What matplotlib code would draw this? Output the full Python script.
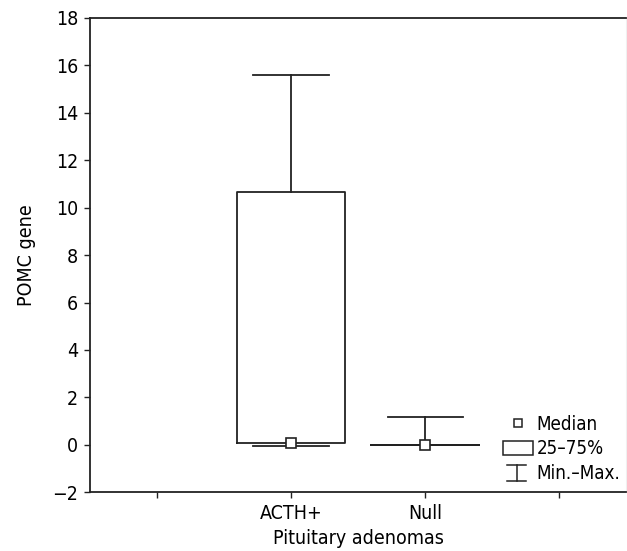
import matplotlib
matplotlib.use("Agg")
import matplotlib.pyplot as plt
from matplotlib.legend_handler import HandlerBase
from matplotlib.lines import Line2D
from matplotlib.patches import Patch

plt.rcParams["font.family"] = ["DejaVu Sans"]
plt.rcParams["font.stretch"] = "condensed"

# box statistics
groups = ["ACTH+", "Null"]
mins = [-0.03, 0.0]
q1s = [0.08, 0.0]
medians = [0.1, 0.0]
q3s = [10.65, 0.0]
maxs = [15.6, 1.16]

tick_pos = [0, 1, 2, 3]
tick_labels = ["", "ACTH+", "Null", ""]
y_ticks = list(range(-2, 19, 2))


class MinMaxHandler(HandlerBase):
    # legend glyph: vertical line with caps at both ends
    def create_artists(self, legend, orig_handle, xdescent, ydescent,
                       width, height, fontsize, trans):
        cx = width * 0.45 - xdescent
        cw = width * 0.33
        y0, y1 = -ydescent - height * 0.1, height * 1.0 - ydescent
        art = [
            Line2D([cx, cx], [y0, y1], color="#222222", lw=1.1),
            Line2D([cx - cw, cx + cw], [y0, y0], color="#222222", lw=1.1),
            Line2D([cx - cw, cx + cw], [y1, y1], color="#222222", lw=1.1),
        ]
        for a in art:
            a.set_transform(trans)
        return art


class MinMax:
    pass


fig = plt.figure(figsize=(6.27, 5.51), dpi=100)
ax = fig.add_axes([0.1435, 0.1065, 0.855, 0.861])

stats = []
for g, lo, a, m, b, hi in zip(groups, mins, q1s, medians, q3s, maxs):
    stats.append({"label": g, "whislo": lo, "q1": a, "med": m, "q3": b,
                  "whishi": hi, "fliers": []})

ax.bxp(stats, positions=[1, 2], widths=0.81, capwidths=0.56,
       showfliers=False, patch_artist=False,
       boxprops=dict(color="#222222", lw=1.3),
       whiskerprops=dict(color="#222222", lw=1.3),
       capprops=dict(color="#222222", lw=1.3),
       medianprops=dict(visible=False))
ax.plot([1, 2], medians, ls="none", marker="s", ms=6.5, mfc="white",
        mec="#222222", mew=1.2, zorder=5)

ax.set_xlim(-0.5, 3.5)
ax.set_ylim(-2, 18)
ax.set_xticks(tick_pos)
ax.set_xticklabels(tick_labels)
ax.set_yticks(y_ticks)
ax.set_yticklabels([str(v).replace("-", "\u2212") for v in y_ticks])
ax.tick_params(labelsize=14, length=4.5, width=1, color="#222222", pad=4)

for s in ["left", "bottom", "top"]:
    ax.spines[s].set_linewidth(1.3)
    ax.spines[s].set_color("#222222")
ax.spines["right"].set_color("#f0f0f0")

ax.set_xlabel("Pituitary adenomas", fontsize=14, labelpad=4)
ax.set_ylabel("POMC gene", fontsize=14, labelpad=12)

handles = [
    Line2D([], [], ls="none", marker="s", ms=6, mfc="white", mec="#222222", mew=1.1),
    Patch(facecolor="white", edgecolor="#222222", lw=1.1),
    MinMax(),
]
ax.legend(handles, ["Median", "25\u201375%", "Min.\u2013Max."],
          handler_map={MinMax: MinMaxHandler()},
          loc="lower right", bbox_to_anchor=(0.99, 0.02), frameon=False,
          fontsize=13.5, handlelength=1.6, handleheight=0.75, handletextpad=0.2,
          labelspacing=0.3, borderaxespad=0, borderpad=0)

fig.savefig("out.png", dpi=100)
